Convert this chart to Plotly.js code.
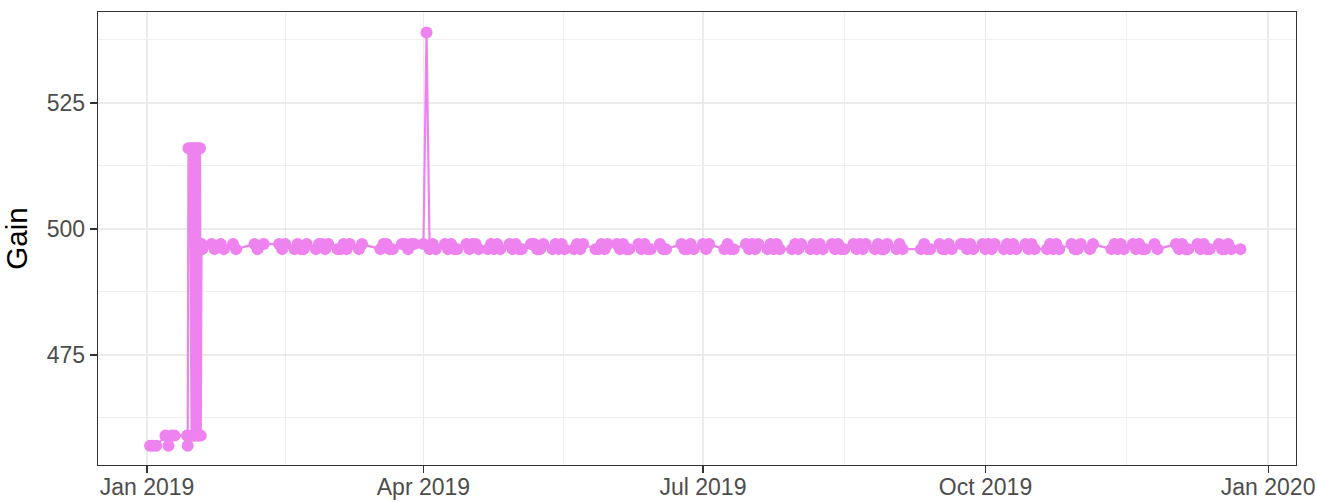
<!DOCTYPE html>
<html>
<head>
<meta charset="utf-8">
<script src="https://cdn.plot.ly/plotly-3.0.1.min.js"></script>
<style>html,body{margin:0;padding:0;background:#fff;}#chart{width:1317px;height:502px;}</style>
</head>
<body>
<div id="chart"></div>
<script>
// ---- data ----
const dates = [
  // early January
  "2019-01-02","2019-01-03","2019-01-04","2019-01-07","2019-01-08","2019-01-09","2019-01-10",
  // unstable period
  "2019-01-14 00:00","2019-01-14 06:00","2019-01-14 12:00","2019-01-15 00:00","2019-01-15 12:00","2019-01-15 18:00",
  "2019-01-16 00:00","2019-01-16 06:00","2019-01-16 12:00","2019-01-16 18:00","2019-01-17 00:00","2019-01-17 06:00",
  "2019-01-17 12:00","2019-01-17 18:00","2019-01-18 00:00","2019-01-18 06:00","2019-01-18 12:00",
  // late January
  "2019-01-18 18:00","2019-01-19","2019-01-22","2019-01-23","2019-01-25","2019-01-26","2019-01-29","2019-01-30",
  // February
  "2019-02-05","2019-02-06","2019-02-08","2019-02-13","2019-02-14","2019-02-15","2019-02-18","2019-02-19",
  "2019-02-20","2019-02-21","2019-02-22","2019-02-25","2019-02-26","2019-02-27","2019-02-28",
  // March
  "2019-03-01","2019-03-04","2019-03-05","2019-03-06","2019-03-07","2019-03-08","2019-03-11","2019-03-12",
  "2019-03-18","2019-03-19","2019-03-20","2019-03-21","2019-03-22","2019-03-25","2019-03-26","2019-03-27",
  "2019-03-28","2019-03-29",
  // April
  "2019-04-01","2019-04-02","2019-04-03","2019-04-04","2019-04-05","2019-04-08","2019-04-09","2019-04-10",
  "2019-04-11","2019-04-12","2019-04-15","2019-04-16","2019-04-17","2019-04-18","2019-04-19","2019-04-22",
  "2019-04-23","2019-04-24","2019-04-25","2019-04-26","2019-04-29","2019-04-30",
  // May
  "2019-05-01","2019-05-02","2019-05-03","2019-05-06","2019-05-07","2019-05-08","2019-05-09","2019-05-10",
  "2019-05-13","2019-05-14","2019-05-15","2019-05-16","2019-05-17","2019-05-20","2019-05-21","2019-05-22",
  "2019-05-23","2019-05-27","2019-05-28","2019-05-29","2019-05-30","2019-05-31",
  // June
  "2019-06-03","2019-06-04","2019-06-05","2019-06-06","2019-06-07","2019-06-10","2019-06-11","2019-06-12",
  "2019-06-13","2019-06-14","2019-06-17","2019-06-18","2019-06-19","2019-06-24","2019-06-25","2019-06-26",
  "2019-06-27","2019-06-28",
  // July
  "2019-07-01","2019-07-02","2019-07-03","2019-07-08","2019-07-09","2019-07-10","2019-07-11","2019-07-15",
  "2019-07-16","2019-07-17","2019-07-18","2019-07-19","2019-07-22","2019-07-23","2019-07-24","2019-07-25",
  "2019-07-26","2019-07-30","2019-07-31",
  // August
  "2019-08-01","2019-08-02","2019-08-05","2019-08-06","2019-08-07","2019-08-08","2019-08-09","2019-08-12",
  "2019-08-13","2019-08-14","2019-08-15","2019-08-16","2019-08-19","2019-08-20","2019-08-21","2019-08-22",
  "2019-08-23","2019-08-26","2019-08-27","2019-08-28","2019-08-29","2019-08-30",
  // September
  "2019-09-02","2019-09-03","2019-09-04","2019-09-10","2019-09-11","2019-09-12","2019-09-13","2019-09-16",
  "2019-09-17","2019-09-18","2019-09-19","2019-09-20","2019-09-23","2019-09-24","2019-09-25","2019-09-26",
  "2019-09-27","2019-09-30",
  // October
  "2019-10-01","2019-10-02","2019-10-03","2019-10-04","2019-10-07","2019-10-08","2019-10-09","2019-10-10",
  "2019-10-11","2019-10-14","2019-10-15","2019-10-16","2019-10-17","2019-10-21","2019-10-22","2019-10-23",
  "2019-10-24","2019-10-25","2019-10-29","2019-10-30","2019-10-31",
  // November
  "2019-11-01","2019-11-04","2019-11-05","2019-11-11","2019-11-12","2019-11-13","2019-11-14","2019-11-15",
  "2019-11-18","2019-11-19","2019-11-20","2019-11-21","2019-11-22","2019-11-25","2019-11-26",
  // December
  "2019-12-02","2019-12-03","2019-12-04","2019-12-05","2019-12-06","2019-12-09","2019-12-10","2019-12-11",
  "2019-12-12","2019-12-13","2019-12-16","2019-12-17","2019-12-18","2019-12-19","2019-12-20","2019-12-23"
];

const gain = [
  457,457,457,459,457,459,459,
  459,457,516,516,459,516,
  459,516,459,516,459,516,
  459,516,459,516,459,
  497,496,497,496,497,496,497,496,
  497,496,497,497,496,497,496,497,
  496,496,497,496,497,497,496,
  497,496,496,497,496,497,496,497,
  496,497,497,496,496,497,497,496,
  497,497,
  497,539,496,497,496,497,496,497,
  496,496,497,496,497,497,496,496,
  497,496,497,496,497,496,
  497,496,496,497,497,496,496,497,
  496,497,496,497,496,496,497,496,
  497,496,496,497,496,497,
  497,496,497,496,496,497,496,497,
  496,496,497,496,496,497,496,496,
  497,496,
  497,496,497,496,497,496,496,497,
  496,497,496,497,496,497,496,497,
  496,496,497,
  496,497,496,497,496,497,496,497,
  496,497,496,496,497,496,497,496,
  497,496,497,496,496,497,
  496,497,496,496,497,496,496,497,
  496,496,497,496,497,497,496,497,
  496,497,
  496,497,496,497,496,497,496,497,
  496,497,496,497,496,496,497,496,
  497,496,497,496,496,
  497,496,497,496,497,496,497,496,
  497,496,497,496,496,497,496,
  497,496,497,496,496,497,496,497,
  496,496,497,496,496,497,496,496
];

const xTickVals = ["2019-01-01","2019-04-01","2019-07-01","2019-10-01","2020-01-01"];
const xTickText = ["Jan 2019","Apr 2019","Jul 2019","Oct 2019","Jan 2020"];
const xMinorVals = ["2019-02-15","2019-05-16 12:00","2019-08-16","2019-11-16"];
const yTickVals = [475, 500, 525];
const yMinorVals = [462.5, 487.5, 512.5, 537.5];

const color = "#EE82EE";
const FONT = "Liberation Sans, Arial, Helvetica, sans-serif";

const trace = {
  type: "scatter",
  mode: "lines+markers",
  x: dates,
  y: gain,
  line: {color: color, width: 2.2},
  marker: {color: color, size: 12},
  hoverinfo: "x+y",
  showlegend: false
};

const layout = {
  width: 1317,
  height: 502,
  margin: {l: 98, r: 21, t: 12, b: 37, pad: 0},
  paper_bgcolor: "#FFFFFF",
  plot_bgcolor: "#FFFFFF",
  showlegend: false,
  font: {family: FONT},
  xaxis: {
    type: "date",
    range: ["2018-12-16 01:00", "2020-01-10 02:00"],
    tickmode: "array",
    tickvals: xTickVals,
    ticktext: xTickText,
    ticks: "outside",
    ticklen: 7,
    tickwidth: 1.1,
    tickcolor: "#333333",
    ticklabelstandoff: -6,
    tickfont: {family: FONT, size: 23, color: "#4D4D4D"},
    showgrid: true,
    gridcolor: "#EBEBEB",
    gridwidth: 1.4,
    minor: {tickmode: "array", tickvals: xMinorVals, showgrid: true, gridcolor: "#EBEBEB", gridwidth: 0.8, ticks: ""},
    showline: true,
    mirror: true,
    linecolor: "#333333",
    linewidth: 1.4,
    zeroline: false
  },
  yaxis: {
    range: [453.17, 543.05],
    tickmode: "array",
    tickvals: yTickVals,
    ticktext: yTickVals.map(String),
    ticks: "outside",
    ticklen: 7,
    tickwidth: 1.1,
    tickcolor: "#333333",
    tickfont: {family: FONT, size: 23, color: "#4D4D4D"},
    showgrid: true,
    gridcolor: "#EBEBEB",
    gridwidth: 1.4,
    minor: {tickmode: "array", tickvals: yMinorVals, showgrid: true, gridcolor: "#EBEBEB", gridwidth: 0.8, ticks: ""},
    showline: true,
    mirror: true,
    linecolor: "#333333",
    linewidth: 1.4,
    zeroline: false,
    title: {text: "Gain", font: {family: FONT, size: 29.5, color: "#000000"}, standoff: 10}
  }
};

Plotly.newPlot("chart", [trace], layout, {staticPlot: true, displayModeBar: false});
</script>
</body>
</html>
